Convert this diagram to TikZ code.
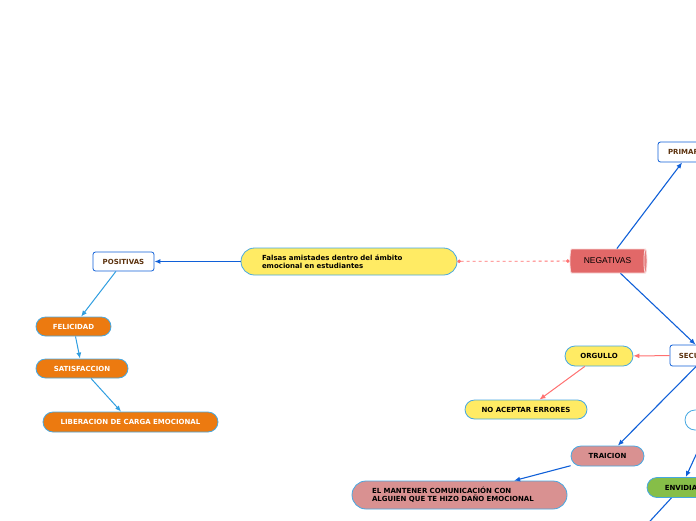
\documentclass[tikz,border=0pt]{standalone}
\usepackage{fontspec}
\setmainfont{DejaVu Sans}
\newfontfamily\cylfont{Liberation Sans}
\usepackage{xcolor}
\usetikzlibrary{arrows.meta,shapes.geometric}
\definecolor{mmblue}{RGB}{16,96,216}
\definecolor{mmsky}{RGB}{48,158,224}
\definecolor{mmedge}{RGB}{70,168,226}
\definecolor{mmpink}{RGB}{255,112,112}
\definecolor{mmyellow}{RGB}{255,235,100}
\definecolor{mmorange}{RGB}{236,122,16}
\definecolor{mmrose}{RGB}{217,145,145}
\definecolor{mmgreen}{RGB}{134,190,72}
\definecolor{mmred}{RGB}{226,104,104}
\definecolor{mmbrown}{RGB}{92,50,14}
\tikzset{
  pill/.style={draw=mmedge, thick, rounded corners=9.5pt, minimum height=19pt, inner sep=0pt, font=\fontsize{7}{8.5}\selectfont\bfseries, align=center},
  topic/.style={draw=mmblue, thick, fill=white, rounded corners=2.5pt, minimum height=20pt, inner sep=0pt, text=mmbrown, font=\fontsize{7}{8.5}\selectfont\bfseries},
  arr/.style={-{Latex[length=6pt,width=5pt]}, mmblue, line width=1.1pt},
  arrs/.style={-{Latex[length=6pt,width=5pt]}, mmsky, line width=1pt},
  arrp/.style={-{Latex[length=6pt,width=5pt]}, mmpink, line width=1pt},
}

\begin{document}
\begin{tikzpicture}[x=1pt,y=-1pt]
  \useasboundingbox (0,0) rectangle (696,520);
  \clip (0,0) rectangle (696,520);
  \node[pill, fill=mmyellow, rounded corners=13.5pt, minimum width=216pt, minimum height=27pt, text width=174pt, align=left] (tema) at (349,261.5) {Falsas amistades dentro del ámbito\\emocional en estudiantes};
  \node[cylinder, draw=white!75!mmred, thick, cylinder uses custom fill, cylinder body fill=mmred, cylinder end fill=mmred!85!white, minimum width=24pt, minimum height=77pt, aspect=0.5, inner sep=0pt, font=\cylfont\fontsize{8.5}{10}\selectfont] (neg) at (607.5,261) {NEGATIVAS};
  \node[topic, minimum width=61pt, minimum height=19pt] (pos) at (123.5,261.5) {POSITIVAS};
  \node[pill, fill=mmorange, text=white, minimum width=75pt] (feli) at (73.5,326.5) {FELICIDAD};
  \node[pill, fill=mmorange, text=white, minimum width=92pt] (satis) at (82,368.5) {SATISFACCION};
  \node[pill, fill=mmorange, text=white, minimum width=175pt, minimum height=20pt, rounded corners=10pt] (liber) at (130.5,422) {LIBERACION DE CARGA EMOCIONAL};
  \node[topic, minimum width=64pt] (prim) at (690,152) {PRIMARIAS};
  \node[topic, minimum width=74pt, minimum height=21pt] (secu) at (707,355.5) {SECUNDARIAS};
  \node[pill, fill=mmyellow, minimum width=68pt, minimum height=20pt, rounded corners=10pt] (orgu) at (599,356) {ORGULLO};
  \node[pill, fill=mmyellow, minimum width=122pt] (noacep) at (526,409.5) {NO ACEPTAR ERRORES};
  \node[pill, fill=mmrose, minimum width=73pt, minimum height=20pt, rounded corners=10pt] (traic) at (607.5,456) {TRAICION};
  \node[pill, fill=mmrose, rounded corners=14pt, minimum width=215pt, minimum height=28pt, text width=175pt, align=left] (mant) at (459.5,495) {EL MANTENER COMUNICACIÓN CON\\ALGUIEN QUE TE HIZO DAÑO EMOCIONAL};
  \node[pill, fill=white, minimum width=54pt, minimum height=20pt, rounded corners=10pt] (otro) at (712,420) {};
  \node[pill, fill=mmgreen, minimum width=68pt, minimum height=20pt, rounded corners=10pt] (envi) at (681,487.5) {ENVIDIA};
  \coordinate (abajo) at (628,545);
  \draw[arr] (tema) -- (pos);
  \draw[mmpink, dashed, line width=0.8pt, {Circle[length=3.5pt]}-{Circle[length=3.5pt]}] (tema) -- (neg);
  \draw[arrs] (pos) -- (feli);
  \draw[arrs] (feli) -- (satis);
  \draw[arrs] (satis) -- (liber);
  \draw[arr] (neg) -- (prim);
  \draw[arr] (neg) -- (secu);
  \draw[arrp] (secu) -- (orgu);
  \draw[arrp] (orgu) -- (noacep);
  \draw[arr] (secu) -- (traic);
  \draw[arr] (traic) -- (mant);
  \draw[arr] (otro) -- (envi);
  \draw[arr] (envi) -- (abajo);
\end{tikzpicture}
\end{document}
